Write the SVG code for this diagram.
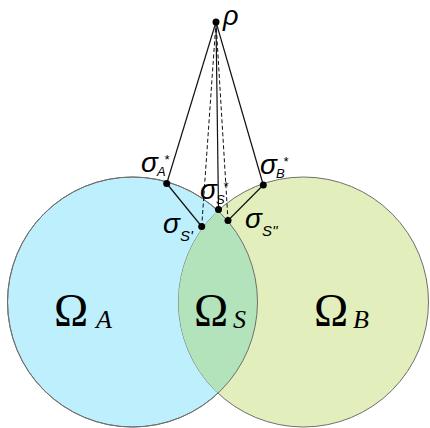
<svg xmlns="http://www.w3.org/2000/svg" width="430" height="428" viewBox="0 0 430 428">
<style>
.circ{stroke:#6f6f6f;stroke-width:1}
.ln{stroke:#111;stroke-width:1.2;fill:none}
.dash{stroke:#111;stroke-width:1;fill:none;stroke-dasharray:4 2.5}
.dot{fill:#000}
.sig{font-family:"Liberation Sans",Arial,sans-serif;font-style:italic;fill:#000}
.om{font-family:"Liberation Serif","Times New Roman",serif;fill:#000}
</style>
<defs>
<clipPath id="clipA"><circle cx="132.5" cy="302" r="125"/></clipPath>
</defs>
<rect width="430" height="428" fill="#fff"/>
<g id="omegaA"><circle class="circ" cx="132.5" cy="302" r="125" fill="#bdf0fc"/></g>
<g id="omegaB"><circle class="circ" cx="303.5" cy="302" r="125" fill="#e2efbd"/></g>
<g id="omegaS"><circle cx="303.5" cy="302" r="125" fill="#b2e3ba" clip-path="url(#clipA)"/>
<circle cx="132.5" cy="302" r="125" fill="none" stroke="#6f6f6f" stroke-width="1"/></g>
<g id="connectors">
<line class="ln" x1="216" y1="22" x2="166.7" y2="183.5"/>
<line class="ln" x1="216" y1="22" x2="218.5" y2="209.5"/>
<line class="ln" x1="216" y1="22" x2="263.3" y2="185"/>
<line class="dash" x1="216" y1="22" x2="201.7" y2="226.5"/>
<line class="dash" x1="216" y1="22" x2="228" y2="220.5"/>
<line class="ln" x1="166.7" y1="183.5" x2="201.7" y2="226.5"/>
<line class="ln" x1="263.3" y1="185" x2="228" y2="220.5"/>
</g>
<g id="rho"><circle class="dot" cx="216" cy="22" r="3.5"/><text class="sig" x="223" y="25" font-size="27">ρ</text></g>
<g id="sigmaA"><circle class="dot" cx="166.7" cy="183.5" r="3.5"/>
<text class="sig" x="141" y="172" font-size="28">σ</text>
<text class="sig" x="157" y="176" font-size="13">A</text>
<text class="sig" x="164" y="164" font-size="13">*</text></g>
<g id="sigmaB"><circle class="dot" cx="263.3" cy="185" r="3.5"/>
<text class="sig" x="260" y="174" font-size="28">σ</text>
<text class="sig" x="276" y="178" font-size="13">B</text>
<text class="sig" x="283" y="166" font-size="13">*</text></g>
<g id="sigmaS"><circle class="dot" cx="218.5" cy="209.5" r="3.5"/>
<text class="sig" x="200" y="199" font-size="28">σ</text>
<text class="sig" x="216" y="204" font-size="13">S</text>
<text class="sig" x="223" y="191" font-size="13">*</text></g>
<g id="sigmaS1"><circle class="dot" cx="201.7" cy="226.5" r="3.5"/>
<text class="sig" x="163" y="233" font-size="28">σ</text>
<text class="sig" x="180" y="241" font-size="15">S'</text></g>
<g id="sigmaS2"><circle class="dot" cx="228" cy="220.5" r="3.5"/>
<text class="sig" x="245" y="228" font-size="28">σ</text>
<text class="sig" x="262" y="236" font-size="15">S''</text></g>
<g id="labels">
<text class="om" x="54" y="326" font-size="46">Ω</text><text class="om" x="96" y="328" font-size="26" font-style="italic">A</text>
<text class="om" x="194" y="326" font-size="46">Ω</text><text class="om" x="233" y="328" font-size="26" font-style="italic">S</text>
<text class="om" x="314" y="326" font-size="46">Ω</text><text class="om" x="353" y="328" font-size="26" font-style="italic">B</text>
</g>
</svg>
